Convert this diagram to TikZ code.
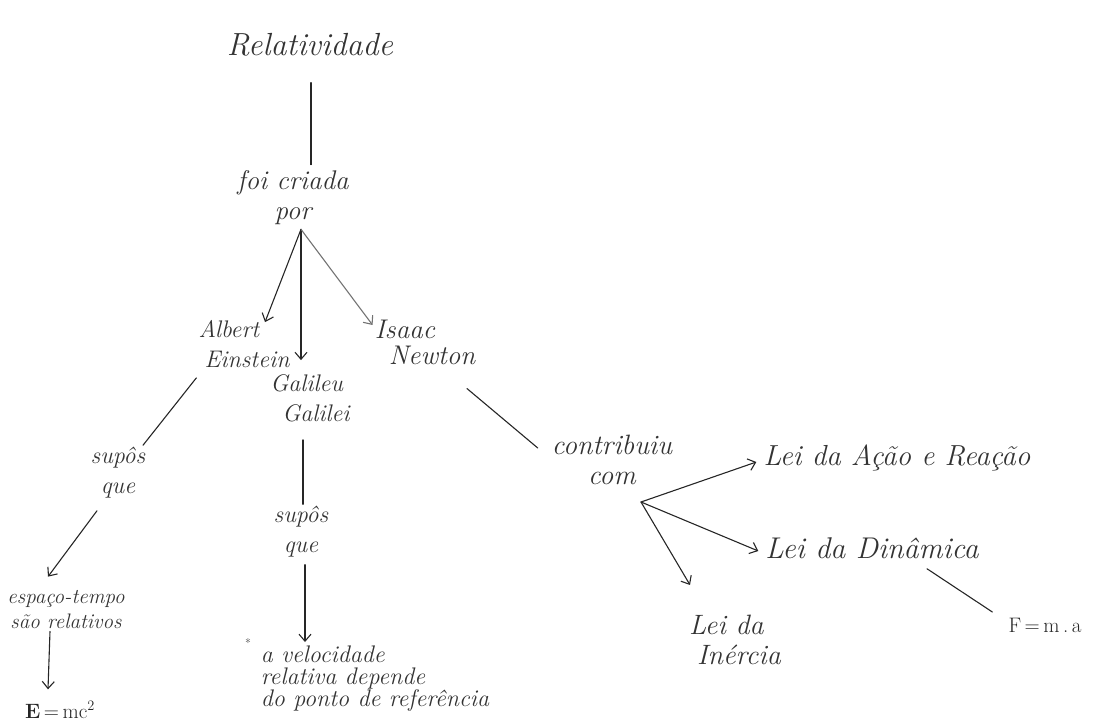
\documentclass[tikz,border=0pt]{standalone}
\usetikzlibrary{arrows.meta}
\begin{document}
\begin{tikzpicture}[x=1pt,y=-1pt,
  hw/.style={font=\itshape\fontsize{24}{30}\selectfont, text=black!80, align=center, inner sep=2pt},
  hwbig/.style={hw, font=\itshape\fontsize{28}{30}\selectfont},
  hwsmall/.style={hw, font=\itshape\fontsize{21}{25}\selectfont},
  eq/.style={font=\fontsize{21}{24}\selectfont, text=black!85, inner sep=2pt},
  ln/.style={draw=black!85, line width=1.1pt, line cap=round},
  arr/.style={ln, -{Straight Barb[length=7pt,width=12pt]}},
  lightarr/.style={arr, draw=black!55}
]
\useasboundingbox (0,0) rectangle (1095,726);
% nodes
\node[hw, font=\itshape\fontsize{32}{34}\selectfont] (rel) at (310,45) {Relatividade};
\node[hw, font=\itshape\fontsize{27}{30}\selectfont] (crp) at (293,198) {foi criada\\por};
\node[hw, align=left] (ein) at (244,344) {Albert\\\hspace{6pt}Einstein};
\node[hw, align=left] (gal) at (310,398) {Galileu\\\hspace{12pt}Galilei};
\node[hw, align=left, font=\itshape\fontsize{27}{26}\selectfont] (new) at (425,342) {Isaac\\\hspace{14pt}Newton};
\node[hw] (sup1) at (118,473) {supôs\\que};
\node[hwsmall] (esp) at (66,610) {espaço-tempo\\são relativos};
\node[eq] (emc) at (60,710) {$\mathbf{E}$\,=\,mc$^2$};
\node[hw] (sup2) at (301,532) {supôs\\que};
\node[hw, align=left, font=\itshape\fontsize{24}{22}\selectfont] (vel) at (375,679) {a velocidade\\relativa depende\\do ponto de referência};
\node[font=\fontsize{12}{12}\selectfont, text=black!75, inner sep=1pt] (ast) at (248,643) {*};
\node[hwbig] (con) at (612,460) {contribuiu\\com};
\coordinate (br) at (641,502);
\node[hwbig, font=\itshape\fontsize{29}{30}\selectfont] (acao) at (897,458) {Lei da Ação e Reação};
\node[hwbig, font=\itshape\fontsize{30}{30}\selectfont] (din) at (872,548) {Lei da Dinâmica};
\node[hwbig, align=left] (ine) at (735,640) {Lei da\\\hspace{8pt}Inércia};
\node[eq] (fma) at (1045,625) {F\,=\,m\,.\,a};
% connectors
\draw[ln] ([xshift=1pt,yshift=-24pt]rel.south) -- ([xshift=18pt,yshift=4pt]crp.north);
\draw[arr] ([xshift=8pt,yshift=-2pt]crp.south) -- ([xshift=21pt,yshift=-4pt]ein.north);
\draw[arr] ([xshift=8pt,yshift=-2pt]crp.south) -- ([xshift=-9pt,yshift=12pt]gal.north);
\draw[lightarr] ([xshift=8pt,yshift=-2pt]crp.south) -- ([yshift=17pt]new.west);
\draw[ln] ([yshift=-8pt]ein.south west) -- ([xshift=25pt]sup1.north);
\draw[arr] ([xshift=-21pt,yshift=-10pt]sup1.south) -- ([xshift=-18pt,yshift=12pt]esp.north);
\draw[arr] ([xshift=-16pt,yshift=0pt]esp.south) -- ([xshift=-12pt,yshift=10pt]emc.north);
\draw[ln] ([xshift=-7pt,yshift=-16pt]gal.south) -- ([xshift=2pt]sup2.north);
\draw[arr] ([xshift=4pt,yshift=-5pt]sup2.south) -- ([xshift=-70pt,yshift=2pt]vel.north);
\draw[ln] ([xshift=42pt,yshift=-22pt]new.south) -- ([xshift=-12pt,yshift=12pt]con.west);
\draw[arr] (br) -- ([xshift=-5pt,yshift=-4pt]acao.west);
\draw[arr] (br) -- ([xshift=-5pt,yshift=-3pt]din.west);
\draw[arr] (br) -- ([xshift=-45pt,yshift=28pt]ine.north);
\draw[ln] ([xshift=55pt,yshift=-8pt]din.south) -- ([xshift=-14pt,yshift=13pt]fma.west);
\end{tikzpicture}
\end{document}
